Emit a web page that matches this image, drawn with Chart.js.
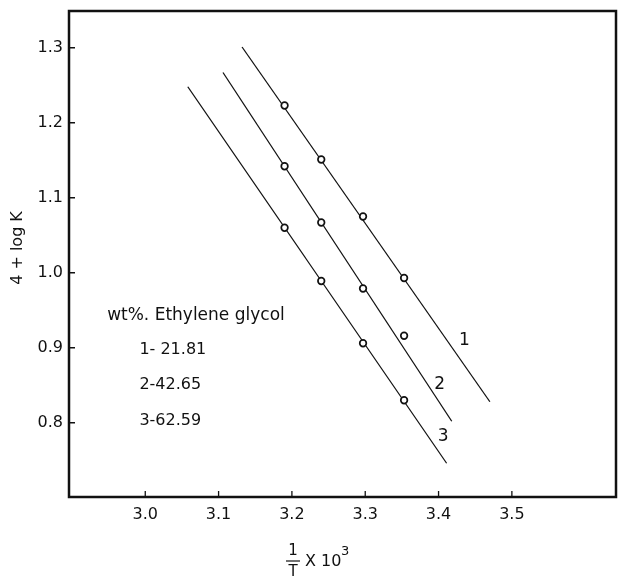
<!DOCTYPE html>
<html>
<head>
  <title>4 + log K vs 1/T</title>
  <style>
    body { margin: 0; background: #fff; }
    #wrap { width: 618px; height: 577px; }
  </style>
</head>
<body>
  <div id="wrap">
    <canvas id="canvas" width="618" height="577"></canvas>
  </div>
  <script src="https://cdn.jsdelivr.net/npm/chart.js"></script>
  <script>
    // measured points (1/T x 10^3, 4 + log K)
    var invT = [3.19, 3.24, 3.297, 3.353];
    var logK1 = [1.223, 1.151, 1.075, 0.993];
    var logK2 = [1.142, 1.067, 0.979, 0.916];
    var logK3 = [1.060, 0.989, 0.906, 0.830];

    // fitted lines, start and end as drawn
    var fitX1 = [3.132, 3.470];
    var fitY1 = [1.301, 0.828];
    var fitX2 = [3.106, 3.418];
    var fitY2 = [1.267, 0.802];
    var fitX3 = [3.058, 3.411];
    var fitY3 = [1.248, 0.746];

    var xTicks = [3.0, 3.1, 3.2, 3.3, 3.4, 3.5];
    var yTicks = [0.8, 0.9, 1.0, 1.1, 1.2, 1.3];

    var lineNames = ['1', '2', '3'];
    var legendTitle = 'wt%. Ethylene glycol';
    var legendRows = ['1- 21.81', '2-42.65', '3-62.59'];

    function pts(xs, ys) {
      return xs.map(function(x, i) { return {x: x, y: ys[i]}; });
    }

    function lineSet(xs, ys) {
      return {
        data: pts(xs, ys), showLine: true, borderColor: '#111', borderWidth: 1.3,
        pointRadius: 0, pointHoverRadius: 0, order: 2
      };
    }

    function pointSet(ys) {
      return {
        data: pts(invT, ys), showLine: false, pointRadius: 3.3, pointBorderWidth: 1.7,
        pointBorderColor: '#111', pointBackgroundColor: '#fff', order: 1
      };
    }

    var frame = {
      id: 'frame',
      afterDraw: function(chart) {
        var ctx = chart.ctx, a = chart.chartArea;
        var xs = chart.scales.x, ys = chart.scales.y;
        ctx.save();
        ctx.strokeStyle = '#111';
        ctx.lineWidth = 2.5;
        ctx.strokeRect(a.left, a.top, a.right - a.left, a.bottom - a.top);

        // small ticks pointing inward
        ctx.lineWidth = 1.3;
        ctx.beginPath();
        xTicks.forEach(function(v) {
          var p = xs.getPixelForValue(v);
          ctx.moveTo(p, a.bottom); ctx.lineTo(p, a.bottom - 6);
        });
        yTicks.forEach(function(v) {
          var p = ys.getPixelForValue(v);
          ctx.moveTo(a.left, p); ctx.lineTo(a.left + 6, p);
        });
        ctx.stroke();

        ctx.fillStyle = '#111';
        ctx.textBaseline = 'middle';
        ctx.textAlign = 'left';
        ctx.font = '17px "DejaVu Sans"';
        // line numbers near the lower ends
        var nx = [3.428, 3.394, 3.399], ny = [0.909, 0.851, 0.781];
        lineNames.forEach(function(t, i) {
          ctx.fillText(t, xs.getPixelForValue(nx[i]), ys.getPixelForValue(ny[i]));
        });

        // legend block
        ctx.fillText(legendTitle, xs.getPixelForValue(2.948), ys.getPixelForValue(0.943));
        ctx.font = '16px "DejaVu Sans"';
        var ry = [0.897, 0.851, 0.803];
        legendRows.forEach(function(t, i) {
          ctx.fillText(t, xs.getPixelForValue(2.992), ys.getPixelForValue(ry[i]));
        });

        // y title
        ctx.save();
        ctx.translate(18, 248);
        ctx.rotate(-Math.PI / 2);
        ctx.textAlign = 'center';
        ctx.font = '16px "DejaVu Sans"';
        ctx.fillText('4 + log K', 0, 0);
        ctx.restore();

        // x title: 1/T x 10^3
        ctx.font = '15px "DejaVu Sans"';
        ctx.textAlign = 'center';
        ctx.fillText('1', 293, 551);
        ctx.fillText('T', 293, 572);
        ctx.lineWidth = 1.2;
        ctx.beginPath(); ctx.moveTo(286, 561); ctx.lineTo(300, 561); ctx.stroke();
        ctx.textAlign = 'left';
        ctx.font = '16px "DejaVu Sans"';
        ctx.fillText('X 10', 305, 562);
        ctx.font = '13px "DejaVu Sans"';
        ctx.fillText('3', 341, 552);
        ctx.restore();
      }
    };

    var config = {
      type: 'scatter',
      data: {
        datasets: [
          lineSet(fitX1, fitY1), lineSet(fitX2, fitY2), lineSet(fitX3, fitY3),
          pointSet(logK1), pointSet(logK2), pointSet(logK3)
        ]
      },
      options: {
        responsive: false,
        animation: false,
        layout: { autoPadding: false, padding: { left: 0, right: 2, top: 11, bottom: 0 } },
        plugins: { legend: { display: false }, tooltip: { enabled: false } },
        scales: {
          x: {
            type: 'linear', min: 2.896, max: 3.642,
            grid: { display: false, drawTicks: false }, border: { display: false },
            afterBuildTicks: function(s) { s.ticks = xTicks.map(function(v) { return {value: v}; }); },
            afterFit: function(s) { s.height = 80; s.paddingLeft = 0; s.paddingRight = 0; },
            ticks: {
              padding: 8, color: '#111', font: { family: 'DejaVu Sans', size: 16 },
              callback: function(v) { return v.toFixed(1); }
            }
          },
          y: {
            type: 'linear', min: 0.701, max: 1.349,
            grid: { display: false, drawTicks: false }, border: { display: false },
            afterBuildTicks: function(s) { s.ticks = yTicks.map(function(v) { return {value: v}; }); },
            afterFit: function(s) { s.width = 69; s.paddingTop = 0; s.paddingBottom = 0; },
            ticks: {
              padding: 6, color: '#111', font: { family: 'DejaVu Sans', size: 16 },
              callback: function(v) { return v.toFixed(1); }
            }
          }
        }
      },
      plugins: [frame]
    };

    window.onload = function() {
      var ctx = document.getElementById('canvas').getContext('2d');
      window.myChart = new Chart(ctx, config);
    };
  </script>
</body>
</html>
